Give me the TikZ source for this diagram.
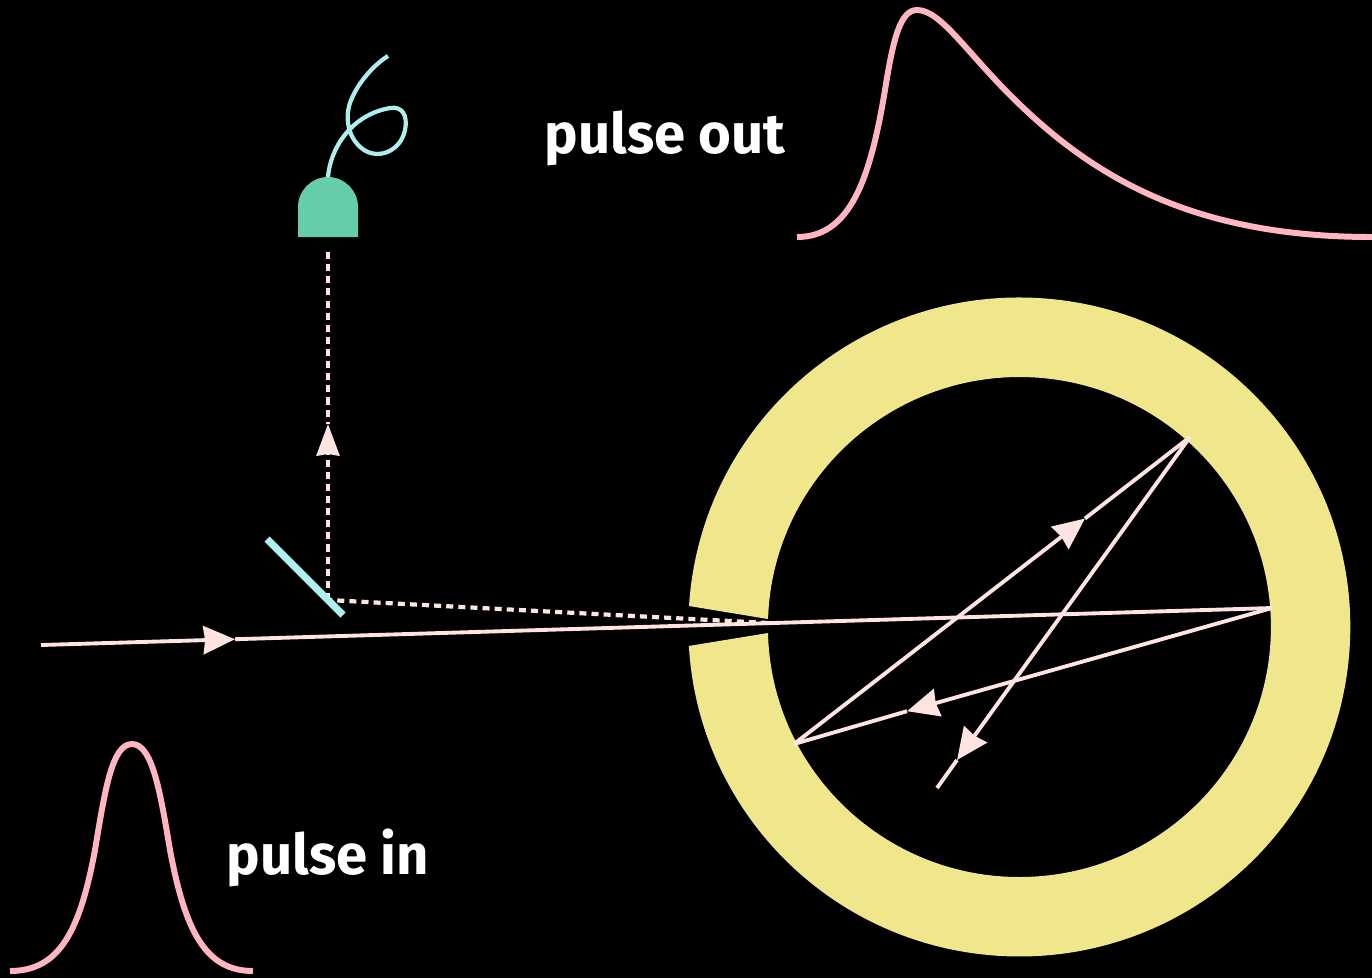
\documentclass[tikz,border=0pt]{standalone}
\usepackage{fontspec}
\setmainfont{Fira Sans}
\usetikzlibrary{arrows.meta}
\definecolor{ringyel}{HTML}{F0E68C}
\definecolor{raypink}{HTML}{FFE4E1}
\definecolor{pulsepink}{HTML}{FFB6C1}
\definecolor{mirrorcy}{HTML}{AFEEEE}
\definecolor{detgreen}{HTML}{66CDAA}
\begin{document}
\begin{tikzpicture}[
      x=0.02cm,y=-0.02cm,
      ray/.style={draw=raypink,line width=2.2pt},
      rayarr/.style={ray,-{Stealth[length=18pt,width=16pt,inset=1pt]}},
      dashray/.style={ray,line width=2.4pt,dash pattern=on 4pt off 2.9pt},
      pulse/.style={draw=pulsepink,line width=3.4pt},
      lbl/.style={text=white,font=\fontsize{32}{38}\selectfont\bfseries}
    ]
    \fill[black] (0,0) rectangle (1372,978);
    \useasboundingbox (0,0) rectangle (1372,978);

    % ring with its gap
    \fill[ringyel] (689,606) arc[start angle=183.65,end angle=536.7,x radius=331,y radius=329.5]
          -- (768,633) arc[start angle=538.625,end angle=181.83,x radius=251.5,y radius=250] -- cycle;

    % points of the beam
    \coordinate (inp) at (41,645);
    \coordinate (tipa) at (235,639.2);
    \coordinate (hitr) at (1272,608);
    \coordinate (tipb) at (907,711.2);
    \coordinate (hitl) at (794,744);
    \coordinate (tipc) at (1085,518.5);
    \coordinate (hitt) at (1190,437);
    \coordinate (tipd) at (957,760);
    \coordinate (endp) at (937,788);
    \coordinate (refl) at (328,600);
    \coordinate (gap) at (768,623);
    \coordinate (tipe) at (328,424);
    \coordinate (detin) at (328,252);

    \draw[rayarr] (inp) -- (tipa);
    \draw[ray] (tipa) -- (hitr);
    \draw[rayarr] (hitr) -- (tipb);
    \draw[ray] (tipb) -- (hitl);
    \draw[rayarr] (hitl) -- (tipc);
    \draw[ray] (tipc) -- (hitt);
    \draw[rayarr] (hitt) -- (tipd);
    \draw[ray] (tipd) -- (endp);

    \draw[dashray] (gap) -- (refl);
    \draw[dashray,-{Stealth[length=18pt,width=13pt,inset=1pt]}] (refl) -- (tipe);
    \draw[dashray] (detin) -- (tipe);

    \draw[mirrorcy,line width=4.2pt] (267,539) -- (343,615);

    % detector and fibre
    \fill[detgreen] (298,237) -- (298,207) arc[start angle=180,end angle=360,radius=30]
          -- (358,237) -- cycle;
    \draw[mirrorcy,line width=2.4pt] (328,177) .. controls (330,150) and (350,115) .. (390,108)
          .. controls (402,106) and (408,115) .. (405,130)
          .. controls (401,150) and (380,160) .. (364,150)
          .. controls (345,137) and (345,112) .. (352,98)
          .. controls (358,84) and (372,66) .. (388,56);

    % pulses
    \draw[pulse] (10,971) .. controls (60,971) and (80,930) .. (95,850)
          .. controls (105,790) and (112,744) .. (132,744)
          .. controls (152,744) and (160,790) .. (170,850)
          .. controls (185,930) and (205,971) .. (253,971);
    \draw[pulse] (797,237) .. controls (850,237) and (870,180) .. (885,90)
          .. controls (893,40) and (900,10) .. (917,10)
          .. controls (940,10) and (965,50) .. (1010,95)
          .. controls (1090,175) and (1190,237) .. (1372,237);

    \node[lbl] (pout) at (665,138) {pulse out};
    \node[lbl] (pin) at (328,858) {pulse in};
  \end{tikzpicture}
\end{document}
